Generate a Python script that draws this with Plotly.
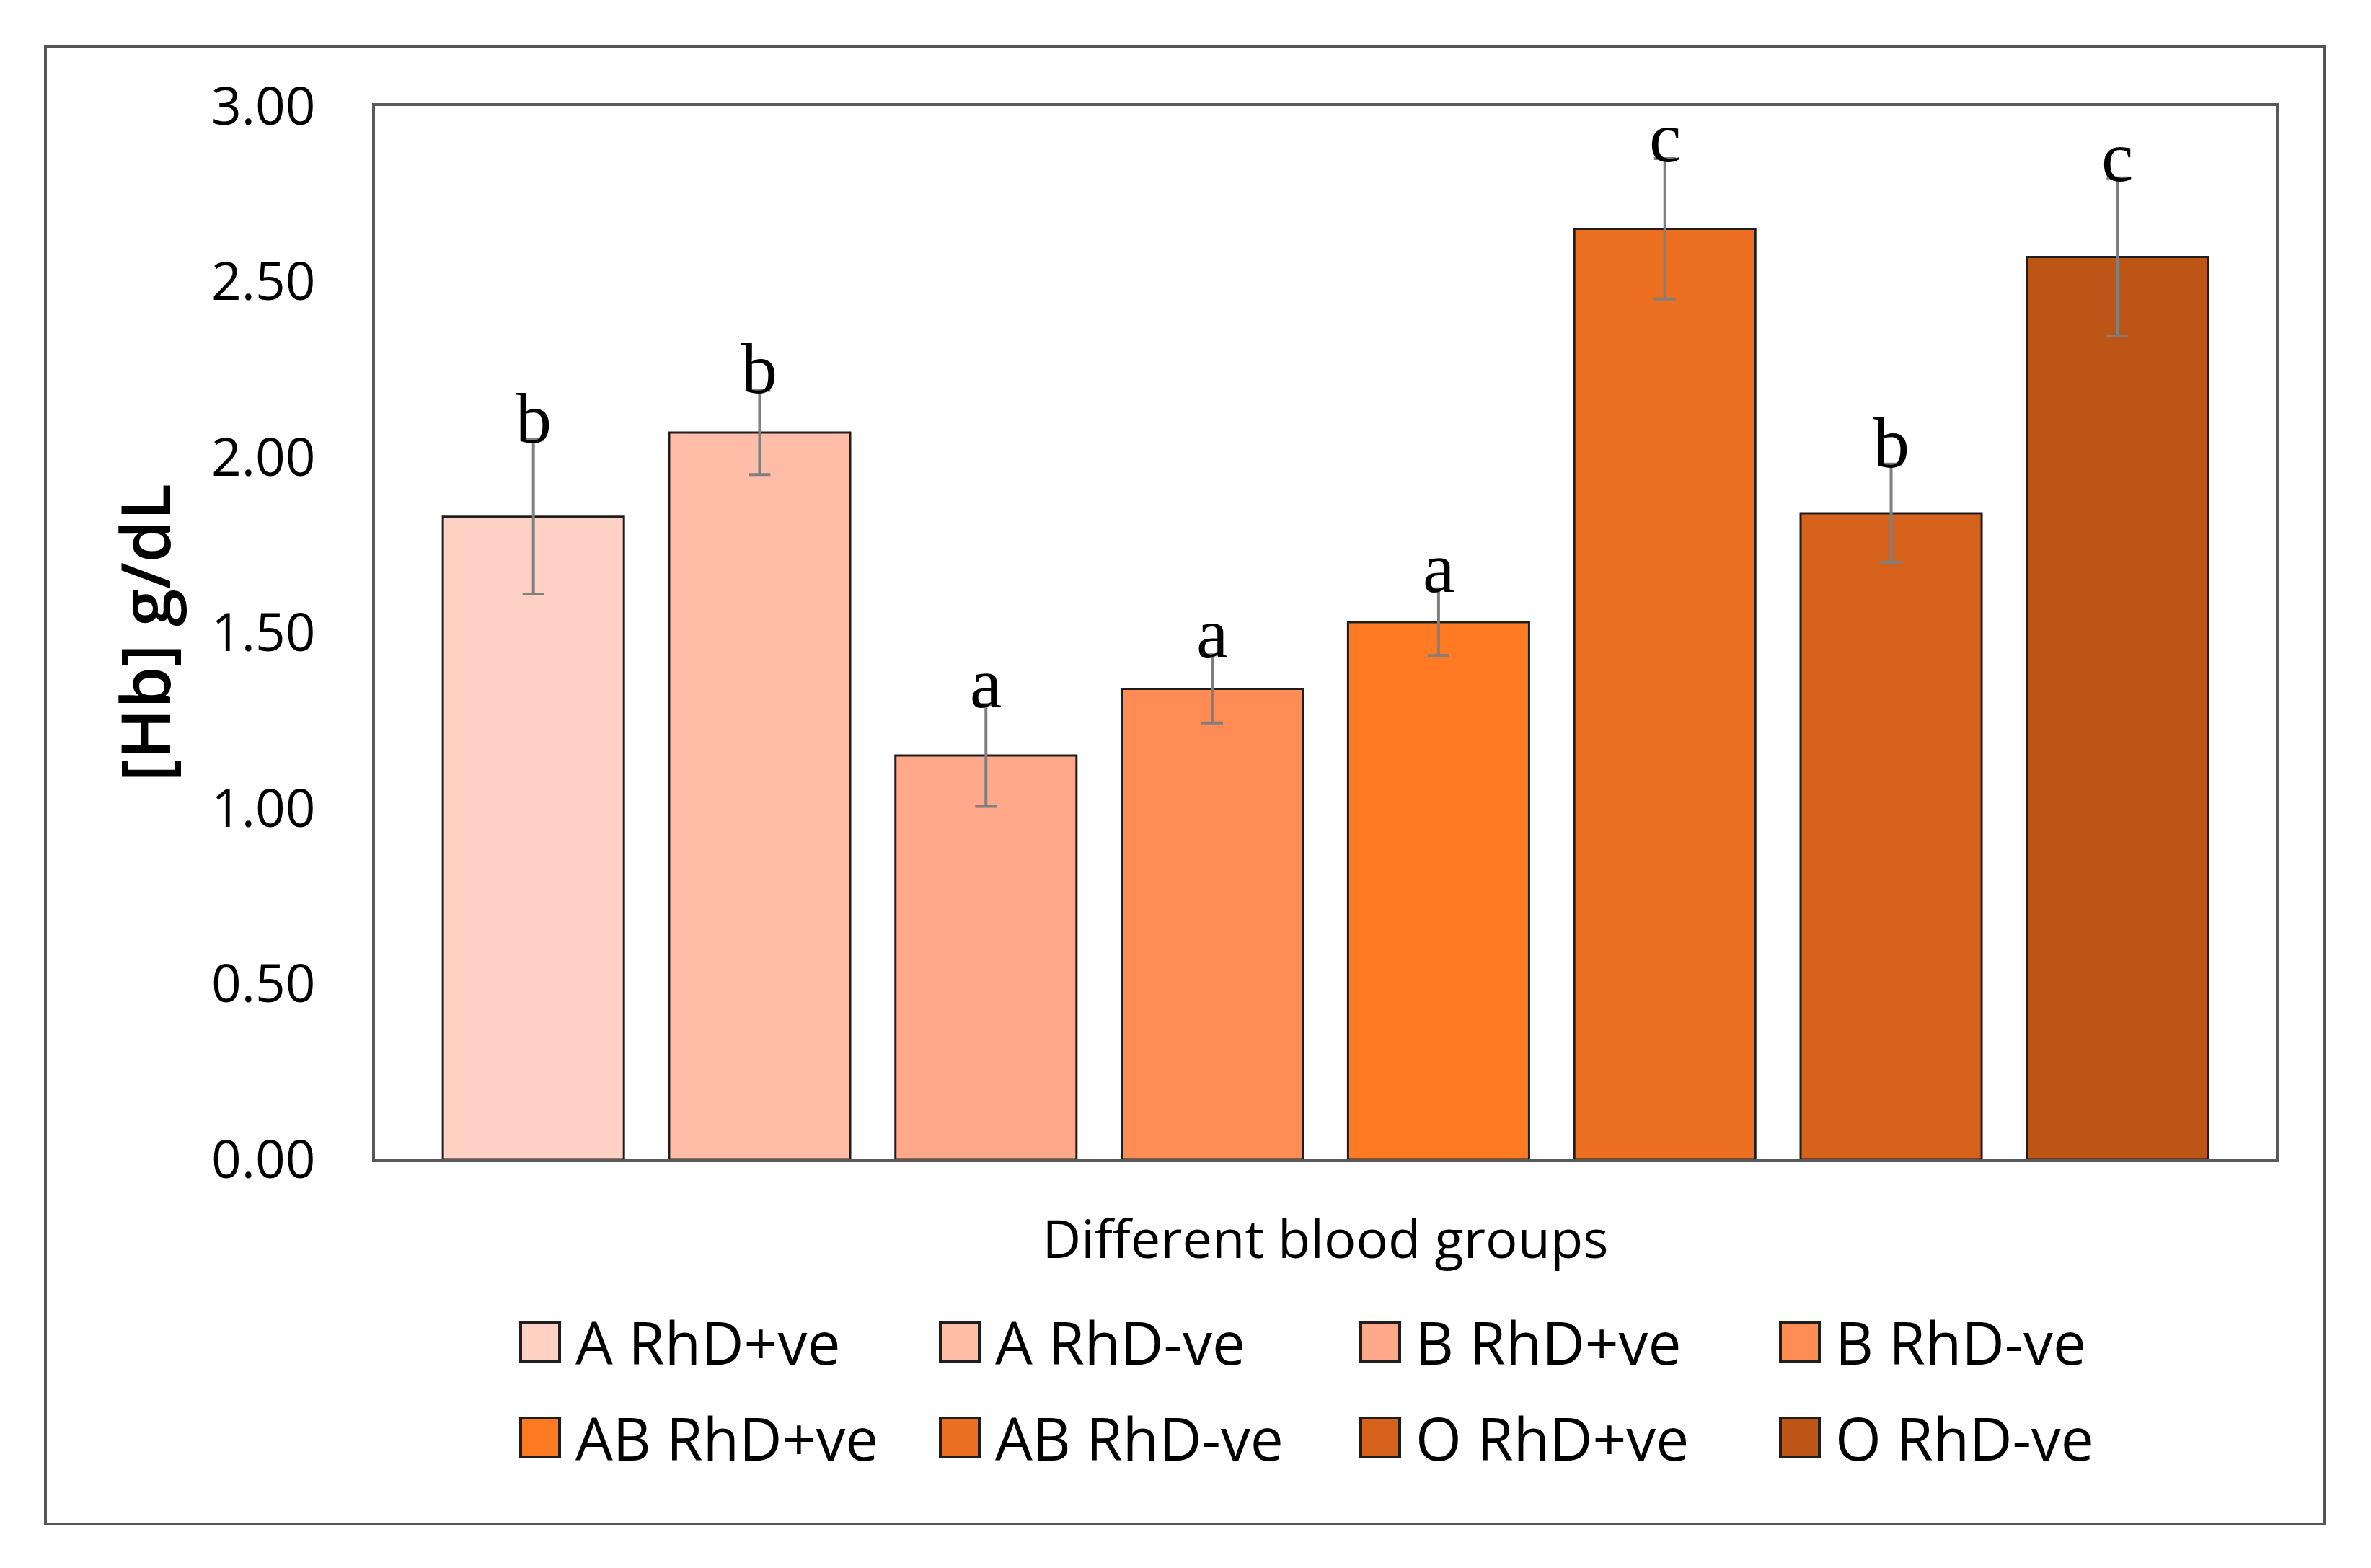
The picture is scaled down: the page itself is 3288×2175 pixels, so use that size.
import plotly.graph_objects as go

# ---- data ----
groups = ["A RhD+ve", "A RhD-ve", "B RhD+ve", "B RhD-ve",
          "AB RhD+ve", "AB RhD-ve", "O RhD+ve", "O RhD-ve"]
hb_mean = [1.83, 2.07, 1.15, 1.34, 1.53, 2.65, 1.84, 2.57]
hb_err = [0.22, 0.12, 0.145, 0.097, 0.095, 0.20, 0.14, 0.225]
sig_letters = ["b", "b", "a", "a", "a", "c", "b", "c"]
colors = ["#FFD0C4", "#FFBCA7", "#FFA98A", "#FF8C55",
          "#FF7A22", "#EC6F21", "#D6621B", "#BC5515"]
y_ticks = [0, 0.5, 1.0, 1.5, 2.0, 2.5, 3.0]
y_title = "[Hb] g/dL"
x_title = "Different blood groups"

# ---- layout geometry (pixels, page has an 8px body margin) ----
OFF = 8
W, H = 3288 - OFF, 2175 - OFF
L, T = 520 - OFF, 147 - OFF
R = W - (3156 - OFF)
B = H - (1608 - OFF)
PW, PH = W - L - R, H - T - B


def px_x(px):
    return (px - OFF - L) / PW


def px_y(py):
    return (H - B - (py - OFF)) / PH


fig = go.Figure()
for g, m, e, c in zip(groups, hb_mean, hb_err, colors):
    fig.add_trace(go.Bar(
        x=[g], y=[m], name=g, width=0.8,
        marker=dict(color=c, line=dict(color="#1e1e1e", width=3)),
        error_y=dict(type="data", array=[e], visible=True,
                     color="#7f7f7f", thickness=4, width=15),
        showlegend=False,
    ))

annotations = []
for g, m, e, s in zip(groups, hb_mean, hb_err, sig_letters):
    annotations.append(dict(
        x=g, y=m + e, xref="x", yref="y", text=s, showarrow=False,
        xanchor="center", yanchor="bottom", yshift=-28,
        font=dict(family="Liberation Serif", size=100, color="black"),
    ))

# manual legend (large swatches)
col_left = [722, 1304, 1887, 2469]
row_cy = [1861, 1994]
sw = 54
shapes = []
for i, (g, c) in enumerate(zip(groups, colors)):
    r, k = divmod(i, 4)
    x0 = col_left[k]
    cy = row_cy[r]
    shapes.append(dict(
        type="rect", xref="paper", yref="paper",
        x0=px_x(x0), x1=px_x(x0 + sw), y0=px_y(cy + sw / 2), y1=px_y(cy - sw / 2),
        fillcolor=c, line=dict(color="#1e1e1e", width=4), layer="above",
    ))
    annotations.append(dict(
        x=px_x(x0 + sw + 20), y=px_y(cy), xref="paper", yref="paper",
        text=g, showarrow=False, xanchor="left", yanchor="middle",
        font=dict(family="Open Sans", size=82, color="black"),
    ))

# outer frame
shapes.append(dict(
    type="rect", xref="paper", yref="paper",
    x0=px_x(63), x1=px_x(3223), y0=px_y(2114), y1=px_y(65),
    line=dict(color="#555555", width=4), fillcolor="rgba(0,0,0,0)",
))

fig.update_layout(
    width=W, height=H,
    margin=dict(l=L, r=R, t=T, b=B, pad=0),
    paper_bgcolor="white", plot_bgcolor="white",
    barmode="overlay",
    font=dict(family="Open Sans", color="black"),
    xaxis=dict(
        categoryorder="array", categoryarray=groups,
        range=[-0.7, 7.7], showticklabels=False, ticks="",
        showgrid=False, zeroline=False,
        showline=True, mirror=True, linecolor="#595959", linewidth=4,
        title=dict(text=x_title, standoff=83,
                   font=dict(family="Open Sans", size=74, color="black")),
    ),
    yaxis=dict(
        range=[0, 3], tickvals=y_ticks, tickformat=".2f",
        ticks="", ticklabelstandoff=64,
        tickfont=dict(family="Open Sans", size=73, color="black"),
        showgrid=False, zeroline=False,
        showline=True, mirror=True, linecolor="#595959", linewidth=4,
        title=dict(text=y_title, standoff=26,
                   font=dict(family="Open Sans", size=94, color="black", weight=600)),
    ),
    annotations=annotations,
    shapes=shapes,
)

fig.write_html("out.html")
